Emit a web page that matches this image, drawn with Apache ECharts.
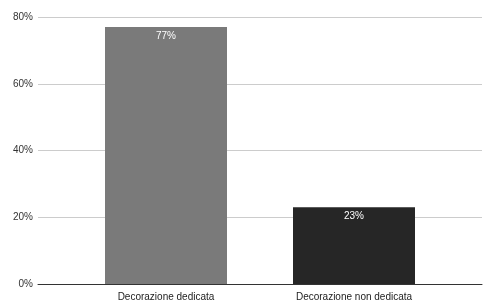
<!DOCTYPE html>
<html>
<head>
<meta charset="utf-8">
<script src="https://cdn.jsdelivr.net/npm/echarts@6/dist/echarts.min.js"></script>
<style>
  html, body { margin: 0; padding: 0; background: #fff; }
  #chart { width: 490px; height: 305px; }
</style>
</head>
<body>
<div id="chart"></div>
<script>
// dati del grafico
var categories = ["Decorazione dedicata", "Decorazione non dedicata"];
var values = [77, 23];
var barColors = ["#7a7a7a", "#262626"];
var yTicks = [0, 20, 40, 60, 80];

var chart = echarts.init(document.getElementById("chart"));

var font = "Liberation Sans, Arial, sans-serif";

var option = {
  animation: false,
  // grid 0: griglia orizzontale a tutta larghezza, grid 1: barre
  grid: [
    { left: 38, right: 8, top: 17, bottom: 21 },
    { left: 72, right: 42, top: 17, bottom: 21 }
  ],
  xAxis: [
    {
      gridIndex: 0, type: "category", data: [""],
      axisLine: { show: true, lineStyle: { color: "#333", width: 1 } },
      axisTick: { show: false }, axisLabel: { show: false }
    },
    {
      gridIndex: 1, type: "category", data: categories,
      axisLine: { show: false }, axisTick: { show: false },
      axisLabel: { color: "#222", fontSize: 10, fontFamily: font, margin: 8 }
    }
  ],
  yAxis: [
    {
      gridIndex: 0, type: "value", min: yTicks[0], max: yTicks[yTicks.length - 1], interval: 20,
      axisLine: { show: false }, axisTick: { show: false },
      axisLabel: { formatter: "{value}%", color: "#333", fontSize: 10, fontFamily: font, margin: 5 },
      splitLine: { lineStyle: { color: "#cccccc", width: 1 } }
    },
    {
      gridIndex: 1, type: "value", min: yTicks[0], max: yTicks[yTicks.length - 1], interval: 20,
      show: false, splitLine: { show: false }
    }
  ],
  series: [
    {
      type: "bar",
      xAxisIndex: 1,
      yAxisIndex: 1,
      barWidth: 122,
      data: values.map(function(v, i) {
        return { value: v, itemStyle: { color: barColors[i] } };
      }),
      label: {
        show: true,
        position: "insideTop",
        distance: 4,
        formatter: "{c}%",
        color: "#fff",
        fontSize: 10,
        fontFamily: font
      }
    }
  ]
};

chart.setOption(option);
</script>
</body>
</html>
